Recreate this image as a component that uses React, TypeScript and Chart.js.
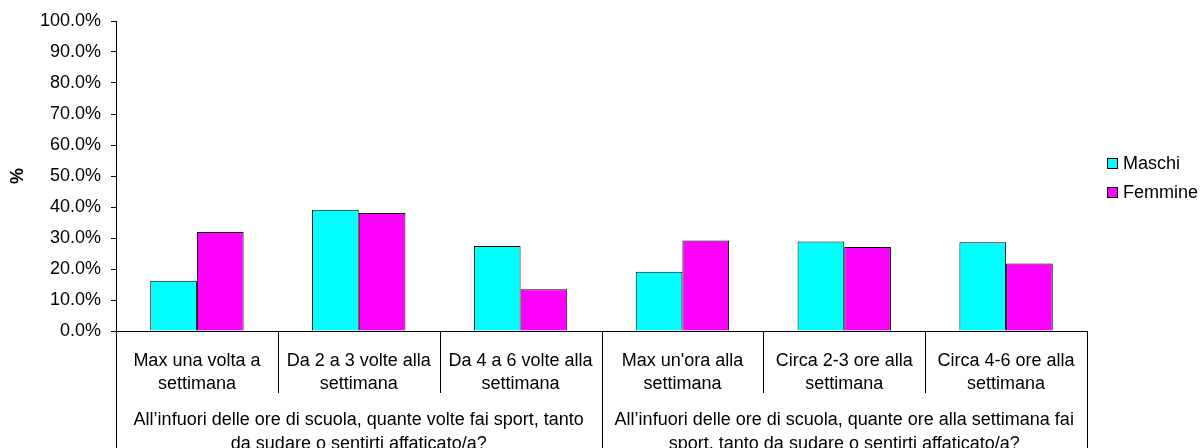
import React, { useEffect, useRef } from "react";
import { Chart, registerables } from "chart.js";

Chart.register(...registerables);

const categoryLines: string[][] = [
  ["Max una volta a", "settimana"],
  ["Da 2 a 3 volte alla", "settimana"],
  ["Da 4 a 6 volte alla", "settimana"],
  ["Max un'ora alla", "settimana"],
  ["Circa 2-3 ore alla", "settimana"],
  ["Circa 4-6 ore alla", "settimana"],
];

const groupLines: string[][] = [
  ["All’infuori delle ore di scuola, quante volte fai sport, tanto", "da sudare o sentirti affaticato/a?"],
  ["All’infuori delle ore di scuola, quante ore alla settimana fai", "sport, tanto da sudare o sentirti affaticato/a?"],
];
const groupSizes = [3, 3];

const seriesNames = ["Maschi", "Femmine"];
const maschi = [16.2, 39.1, 27.4, 19.1, 28.9, 28.6];
const femmine = [31.9, 38.1, 13.5, 29.2, 27.1, 21.8];
const seriesColors = ["#00FFFF", "#FF00FF"];

const yMin = 0;
const yMax = 100;
const yStep = 10;
const yTitle = "%";

const FONT = "'Liberation Sans', Arial, sans-serif";
const FS = 18;

const lowerPlugin = {
  id: "lowerLabels",
  afterDraw(chart: any) {
    const ctx = chart.ctx;
    const area = chart.chartArea;
    const xs = chart.scales.x;
    const n = categoryLines.length;
    const step = xs.getPixelForValue(1) - xs.getPixelForValue(0);
    const H = chart.height;
    ctx.save();
    ctx.strokeStyle = "#000";
    ctx.lineWidth = 1;
    const groupBounds = new Set<number>();
    let acc = 0;
    groupBounds.add(0);
    groupSizes.forEach((s) => {
      acc += s;
      groupBounds.add(acc);
    });
    for (let i = 0; i <= n; i++) {
      const bx = Math.round(xs.getPixelForValue(0) - step / 2 + i * step) + 0.5;
      const yEnd = groupBounds.has(i) ? H : area.bottom + 62;
      ctx.beginPath();
      ctx.moveTo(bx, area.bottom);
      ctx.lineTo(bx, yEnd);
      ctx.stroke();
    }
    ctx.fillStyle = "#000";
    ctx.font = `${FS}px ${FONT}`;
    ctx.textAlign = "center";
    ctx.textBaseline = "alphabetic";
    categoryLines.forEach((lines, i) => {
      const cx = xs.getPixelForValue(i);
      lines.forEach((t, j) => {
        ctx.fillText(t, cx, area.bottom + 35 + j * 23);
      });
    });
    let start = 0;
    groupSizes.forEach((s, g) => {
      const l = xs.getPixelForValue(start) - step / 2;
      const r = xs.getPixelForValue(start + s - 1) + step / 2;
      const cx = (l + r) / 2;
      groupLines[g].forEach((t, j) => {
        ctx.fillText(t, cx, area.bottom + 94 + j * 24);
      });
      start += s;
    });
    // legend
    const lx = area.right + 20;
    const ly0 = 163;
    chart.data.datasets.forEach((ds: any, k: number) => {
      const cy = ly0 + k * 29;
      ctx.fillStyle = ds.backgroundColor;
      ctx.fillRect(lx, cy - 5, 10, 10);
      ctx.strokeStyle = "#000";
      ctx.strokeRect(lx + 0.5, cy - 5 + 0.5, 10, 10);
      ctx.fillStyle = "#000";
      ctx.textAlign = "left";
      ctx.textBaseline = "middle";
      ctx.fillText(ds.label, lx + 16, cy + 1);
    });
    ctx.restore();
  },
};

export default function App() {
  const ref = useRef<HTMLCanvasElement>(null);
  useEffect(() => {
    const canvas = ref.current!;
    const chart = new Chart(canvas, {
      type: "bar",
      data: {
        labels: categoryLines.map((l) => l.join(" ")),
        datasets: [
          {
            label: seriesNames[0],
            data: maschi,
            backgroundColor: seriesColors[0],
            borderColor: "#000",
            borderWidth: 1,
          },
          {
            label: seriesNames[1],
            data: femmine,
            backgroundColor: seriesColors[1],
            borderColor: "#000",
            borderWidth: 1,
          },
        ],
      },
      options: {
        animation: false,
        responsive: false,
        devicePixelRatio: 1,
        layout: { padding: { top: 21, right: 114, bottom: 0, left: 0 } },
        datasets: { bar: { categoryPercentage: 0.577, barPercentage: 1.0 } },
        plugins: { legend: { display: false }, tooltip: { enabled: false } },
        scales: {
          x: {
            ticks: { display: false },
            grid: { display: false },
            border: { display: true, color: "#000", width: 1 },
            afterFit: (s: any) => {
              s.height = 117;
            },
          },
          y: {
            min: yMin,
            max: yMax,
            ticks: {
              stepSize: yStep,
              color: "#000",
              padding: 10,
              font: { family: FONT, size: FS },
              callback: (v: any) => Number(v).toFixed(1) + "%",
            },
            grid: { drawOnChartArea: false, drawTicks: true, tickLength: 5, color: "#000" },
            border: { display: true, color: "#000", width: 1 },
            title: {
              display: true,
              text: yTitle,
              color: "#000",
              font: { family: FONT, size: FS, weight: "bold" },
              padding: { top: 7, bottom: 0 },
            },
            afterFit: (s: any) => {
              s.width = 116;
            },
          },
        },
      },
      plugins: [lowerPlugin],
    });
    return () => chart.destroy();
  }, []);
  return (
    <div style={{ position: "fixed", left: 0, top: 0, width: 1201, height: 448, background: "#fff" }}>
      <canvas ref={ref} width={1201} height={448} style={{ display: "block" }} />
    </div>
  );
}
